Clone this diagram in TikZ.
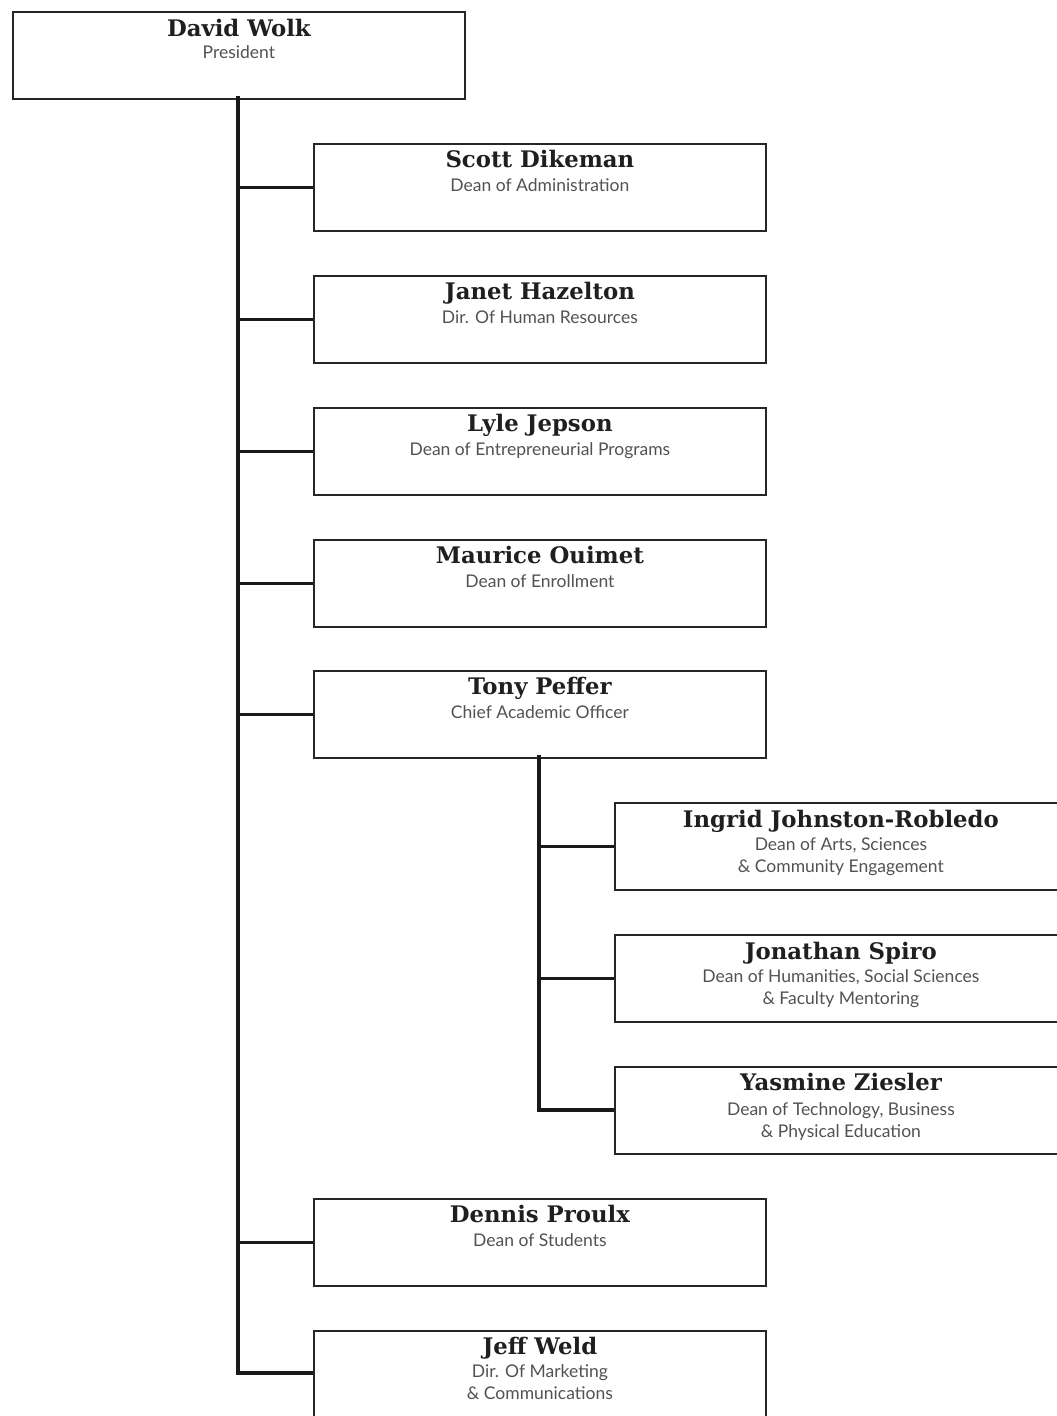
\documentclass[tikz,border=0pt]{standalone}
\usepackage{fontspec}
\newfontfamily\namefont{DejaVu Serif}
\newfontfamily\rolefont{Lato}
\begin{document}
\begin{tikzpicture}[x=1pt,y=-1pt,
  box/.style={draw=black!85, line width=1.8pt, minimum width=452pt, minimum height=87pt, inner sep=0pt, anchor=north west},
  nm/.style={anchor=base, inner sep=0pt, font=\namefont\bfseries\fontsize{22.8}{25}\selectfont, text=black!88},
  role/.style={anchor=base, inner sep=0pt, align=center, font=\rolefont\fontsize{17.5}{22}\selectfont, text=black!68},
  conn/.style={line width=3.8pt, black!90}]
\useasboundingbox (0,0) rectangle (1057,1416);
\begin{scope}
\clip (0,0) rectangle (1057,1416);
% boxes
\node[box] (wolk) at (12,11) {};
\node[box] (dike) at (313,143) {};
\node[box] (haz) at (313,275) {};
\node[box] (jep) at (313,407) {};
\node[box] (oui) at (313,539) {};
\node[box] (pef) at (313,670) {};
\node[box] (ing) at (614,802) {};
\node[box] (spi) at (614,934) {};
\node[box] (zie) at (614,1066) {};
\node[box] (pro) at (313,1198) {};
\node[box] (wel) at (313,1330) {};
% connectors
\coordinate (tr) at (238,98);
\coordinate (trend) at (238,1373);
\draw[conn, line cap=rect] (tr) -- (trend);
\foreach \b in {dike,haz,jep,oui,pef,pro}
  \draw[conn] (tr |- \b.west) -- (\b.west);
\draw[conn] (trend) -- (trend -| wel.west);
\coordinate (sub) at (539,757);
\coordinate (subend) at (539,1110);
\draw[conn, line cap=rect] (sub) -- (subend);
\foreach \b in {ing,spi}
  \draw[conn] (sub |- \b.west) -- (\b.west);
\draw[conn] (subend) -- (subend -| zie.west);
\end{scope}
% texts
\node[nm] (wolkn) at ([yshift=-25pt]wolk.north) {David Wolk};
\node[role] (wolkr) at ([yshift=-47pt]wolk.north) {President};
\node[nm] (diken) at ([yshift=-24pt]dike.north) {Scott Dikeman};
\node[role] (diker) at ([yshift=-48pt]dike.north) {Dean of Administration};
\node[nm] (hazn) at ([yshift=-24pt]haz.north) {Janet Hazelton};
\node[role] (hazr) at ([yshift=-48pt]haz.north) {Dir. Of Human Resources};
\node[nm] (jepn) at ([yshift=-24pt]jep.north) {Lyle Jepson};
\node[role] (jepr) at ([yshift=-48pt]jep.north) {Dean of Entrepreneurial Programs};
\node[nm] (ouin) at ([yshift=-24pt]oui.north) {Maurice Ouimet};
\node[role] (ouir) at ([yshift=-48pt]oui.north) {Dean of Enrollment};
\node[nm] (pefn) at ([yshift=-24pt]pef.north) {Tony Peffer};
\node[role] (pefr) at ([yshift=-48pt]pef.north) {Chief Academic Officer};
\node[nm] (ingn) at ([yshift=-25pt]ing.north) {Ingrid Johnston-Robledo};
\node[role] (ingr) at ([yshift=-70pt]ing.north) {Dean of Arts, Sciences\\\& Community Engagement};
\node[nm] (spin) at ([yshift=-25pt]spi.north) {Jonathan Spiro};
\node[role] (spir) at ([yshift=-70pt]spi.north) {Dean of Humanities, Social Sciences\\\& Faculty Mentoring};
\node[nm] (zien) at ([yshift=-24pt]zie.north) {Yasmine Ziesler};
\node[role] (zier) at ([yshift=-71pt]zie.north) {Dean of Technology, Business\\\& Physical Education};
\node[nm] (pron) at ([yshift=-24pt]pro.north) {Dennis Proulx};
\node[role] (pror) at ([yshift=-48pt]pro.north) {Dean of Students};
\node[nm] (weln) at ([yshift=-24pt]wel.north) {Jeff Weld};
\node[role] (welr) at ([yshift=-69pt]wel.north) {Dir. Of Marketing\\\& Communications};
\end{tikzpicture}
\end{document}
